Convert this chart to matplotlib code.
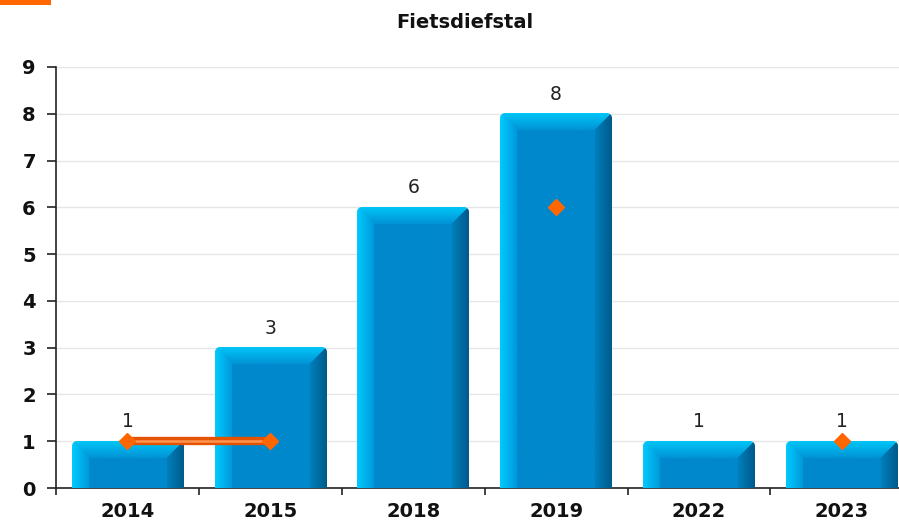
import matplotlib.pyplot as plt
import matplotlib.patches as mpatches
import matplotlib.colors as mcolors
import numpy as np

plt.rcParams['font.family'] = ['DejaVu Sans']

# data
years = ['2014', '2015', '2018', '2019', '2022', '2023']
counts = [1, 3, 6, 8, 1, 1]
trend = [1, 1, np.nan, 6, np.nan, 1]

W, H = 899, 520
fig = plt.figure(figsize=(W / 100, H / 100), dpi=100)
ax = fig.add_axes([56 / W, 1 - 488 / H, (W - 56) / W, (488 - 67) / H])

x = np.arange(len(years))
bw = 0.78
ax.set_xlim(-0.5, 5.4)
ax.set_ylim(0, 9)

bars = ax.bar(x, counts, width=bw, fill=False, lw=0, zorder=2)

# pixels per data unit
bbox = ax.get_window_extent()
ppx = bbox.width / (5.4 + 0.5)
ppy = bbox.height / 9.0


def rgb(c):
    return np.array(mcolors.to_rgb(c))


center = rgb('#0088cc')
left_out, left_in = rgb('#00ccff'), rgb('#0098da')
top_out, top_in = rgb('#00c6f8'), rgb('#0092d4')
right_out, right_in = rgb('#005a8a'), rgb('#0080bc')


def bar_image(nx, ny, bev=17, rad=5):
    u = np.arange(nx)[np.newaxis, :] + 0.5
    v = np.arange(ny)[:, np.newaxis] + 0.5
    u = np.broadcast_to(u, (ny, nx))
    v = np.broadcast_to(v, (ny, nx))
    dl = u
    dr = nx - u
    dt = v
    img = np.zeros((ny, nx, 4))
    img[..., :3] = center
    img[..., 3] = 1
    m = np.minimum(np.minimum(dl, dr), dt)
    face_l = (dl <= dr) & (dl <= dt) & (m < bev)
    face_r = (dr < dl) & (dr <= dt) & (m < bev)
    face_t = (dt < dl) & (dt < dr) & (m < bev)
    t = (m / bev)[..., np.newaxis]
    img[..., :3] = np.where(face_l[..., None], left_out + (left_in - left_out) * t, img[..., :3])
    img[..., :3] = np.where(face_r[..., None], right_out + (right_in - right_out) * t, img[..., :3])
    img[..., :3] = np.where(face_t[..., None], top_out + (top_in - top_out) * t, img[..., :3])
    # rounded top corners
    for cx in (rad, nx - rad):
        d = np.hypot(u - cx, v - rad)
        corner = (v < rad) & (np.abs(u - cx) <= rad) & ((u < rad) | (u > nx - rad))
        alpha = np.clip(rad + 0.5 - d, 0, 1)
        img[..., 3] = np.where(corner, np.minimum(img[..., 3], alpha), img[..., 3])
    return img


for b in bars:
    x0 = b.get_x()
    x1 = x0 + b.get_width()
    top = b.get_height()
    nx = int(round(b.get_width() * ppx))
    ny = int(round(top * ppy))
    ax.imshow(bar_image(nx, ny), extent=(x0, x1, 0, top), origin='upper',
              aspect='auto', interpolation='bilinear', zorder=3)
    ax.text((x0 + x1) / 2, top + 10 / ppy, str(int(top)),
            ha='center', va='bottom', fontsize=13.5, color='#222222', zorder=5)

# orange trend line
ax.plot(x, trend, color='#e65300', lw=6, solid_capstyle='butt', zorder=6)
ax.plot(x, trend, color='#ff9550', lw=1.8, solid_capstyle='butt', zorder=6)
ax.plot(x, trend, ls='none', marker='D', ms=8, color='#ff6600', mec='#ff6600', zorder=7)

# axes styling
ax.set_yticks(range(0, 10))
ax.yaxis.grid(True, color='#e6e6e6', lw=1)
ax.set_axisbelow(True)
ax.set_xticks(np.arange(-0.5, 5.0, 1.0))
ax.set_xticklabels([])
ax.set_xticks(x, minor=True)
ax.set_xticklabels(years, minor=True, fontsize=14, fontweight='bold', color='#111111')
ax.tick_params(axis='x', which='minor', length=0, pad=10)
ax.tick_params(axis='x', which='major', length=5, width=1.2, color='#222222')
ax.tick_params(axis='y', length=6.5, width=1.2, color='#222222', labelsize=14,
               labelcolor='#111111', pad=8)
for lab in ax.get_yticklabels():
    lab.set_fontweight('bold')
for s in ['top', 'right']:
    ax.spines[s].set_visible(False)
for s in ['left', 'bottom']:
    ax.spines[s].set_color('#222222')
    ax.spines[s].set_linewidth(1.2)

fig.text(465 / W, 1 - 23 / H, 'Fietsdiefstal', ha='center', va='center',
         fontsize=14, fontweight='bold', color='#111111')

# orange corner mark
fig.patches.append(mpatches.Rectangle((0, 1 - 5 / H), 51 / W, 5 / H,
                                      transform=fig.transFigure, facecolor='#ff6600',
                                      edgecolor='none'))

fig.savefig('out.png', dpi=100)
